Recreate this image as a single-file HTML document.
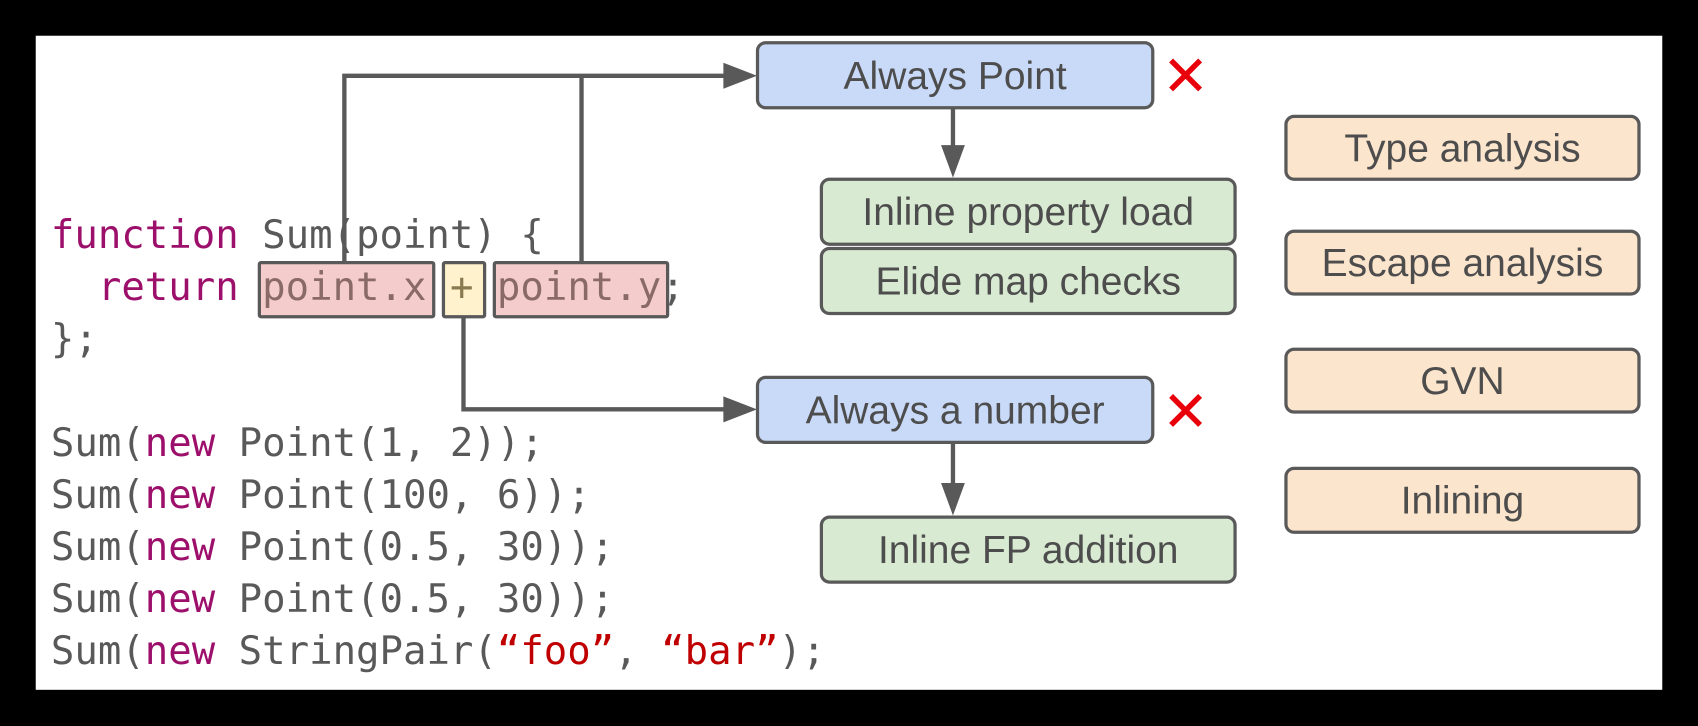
<!DOCTYPE html>
<html><head><meta charset="utf-8"><style>
html,body{margin:0;padding:0;background:#000;width:1698px;height:726px;overflow:hidden}
#s{position:absolute;left:0;top:0;width:1568px;height:670px;transform:scale(1.08291);transform-origin:0 0}
#w{position:absolute;left:33px;top:33px;width:1502px;height:604px;background:#fff}
.c{position:absolute;left:47px;font-family:"DejaVu Sans Mono","Liberation Mono",monospace;font-size:36px;color:#595959;white-space:pre;line-height:48px;height:48px}
.k{color:#9c0f6a}.st{color:#c00000}
.hb{position:absolute;border:3px solid #595959;border-radius:3px;box-sizing:border-box}
.b{position:absolute;box-sizing:border-box;border:3px solid #595959;border-radius:9px;font-family:"Liberation Sans",sans-serif;font-size:36px;color:#4d4d4d;display:flex;align-items:center;justify-content:center}
.bl{background:#c9daf8}.gr{background:#d9ead3}.or{background:#fce5cd}
.x{position:absolute;font-family:"DejaVu Sans",sans-serif;font-size:52px;font-weight:bold;color:#e8000b;line-height:1}
</style></head><body><div id="s"><div id="w"></div>
<div class="hb" style="left:238px;top:241px;width:164px;height:53px;background:#f4cccc"></div>
<div class="hb" style="left:408px;top:241px;width:41px;height:53px;background:#fff2cc"></div>
<div class="hb" style="left:455px;top:241px;width:163px;height:53px;background:#f4cccc"></div>
<svg style="position:absolute;left:0;top:0" width="1568" height="670">
<g stroke="#595959" stroke-width="4" fill="none">
<polyline points="318,242 318,70 672,70"/>
<line x1="537" y1="70" x2="537" y2="242"/>
<polyline points="428,293 428,378 672,378"/>
<line x1="880" y1="100" x2="880" y2="140"/>
<line x1="880" y1="410" x2="880" y2="452"/>
</g>
<g fill="#595959">
<polygon points="668,58 699,70 668,82"/>
<polygon points="668,366 699,378 668,390"/>
<polygon points="869,134 891,134 880,164"/>
<polygon points="869,446 891,446 880,476"/>
</g>
</svg>
<div class="c" style="top:194px"><span class="k">function</span> Sum(point) {</div>
<div class="c" style="top:242px">  <span class="k">return</span> <span style="color:#8a6a66">point.x</span> <span style="color:#8a7a50">+</span> <span style="color:#8a6a66">point.y</span>;</div>
<div class="c" style="top:290px">};</div>
<div class="c" style="top:386px">Sum(<span class="k">new</span> Point(1, 2));</div>
<div class="c" style="top:434px">Sum(<span class="k">new</span> Point(100, 6));</div>
<div class="c" style="top:482px">Sum(<span class="k">new</span> Point(0.5, 30));</div>
<div class="c" style="top:530px">Sum(<span class="k">new</span> Point(0.5, 30));</div>
<div class="c" style="top:578px">Sum(<span class="k">new</span> StringPair(<span class="st">“foo”</span>, <span class="st">“bar”</span>);</div>
<div class="b bl" style="left:698px;top:38px;width:368px;height:63px">Always Point</div>
<div class="b bl" style="left:698px;top:347px;width:368px;height:63px">Always a number</div>
<div class="x" style="left:1073px;top:45px">✕</div>
<div class="x" style="left:1073px;top:355px">✕</div>
<div class="b gr" style="left:757px;top:164px;width:385px;height:63px">Inline property load</div>
<div class="b gr" style="left:757px;top:228px;width:385px;height:63px">Elide map checks</div>
<div class="b gr" style="left:757px;top:476px;width:385px;height:63px">Inline FP addition</div>
<div class="b or" style="left:1186px;top:106px;width:329px;height:61px">Type analysis</div>
<div class="b or" style="left:1186px;top:212px;width:329px;height:61px">Escape analysis</div>
<div class="b or" style="left:1186px;top:321px;width:329px;height:61px">GVN</div>
<div class="b or" style="left:1186px;top:431px;width:329px;height:62px">Inlining</div>
</div></body></html>
